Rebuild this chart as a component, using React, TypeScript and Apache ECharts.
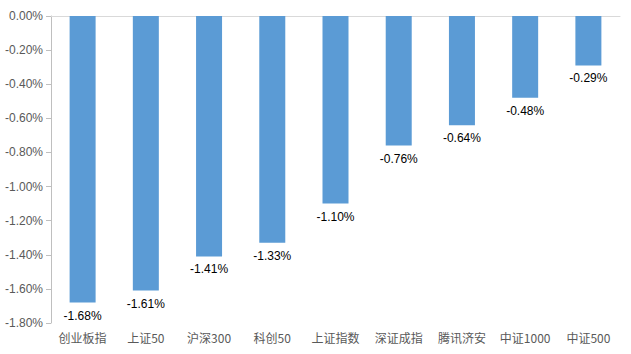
import React, { useEffect, useRef } from "react";
import * as echarts from "echarts";

const categories = ["创业板指", "上证50", "沪深300", "科创50", "上证指数", "深证成指", "腾讯济安", "中证1000", "中证500"];
const values = [-1.68, -1.61, -1.41, -1.33, -1.10, -0.76, -0.64, -0.48, -0.29];

export default function App() {
  const ref = useRef<HTMLDivElement>(null);
  useEffect(() => {
    if (!ref.current) return;
    const chart = echarts.init(ref.current, undefined, { renderer: "svg" });
    const font = "'Liberation Sans', 'Noto Sans CJK SC', sans-serif";
    chart.setOption({
      animation: false,
      grid: { left: 51, top: 16, right: 11, bottom: 31 },
      xAxis: [
        {
          type: "category",
          position: "top",
          data: categories,
          axisLine: { show: true, lineStyle: { color: "#d9d9d9", width: 1 } },
          axisTick: { show: false },
          axisLabel: { show: false },
        },
        {
          type: "category",
          position: "bottom",
          data: categories,
          axisLine: { show: false },
          axisTick: { show: false },
          axisLabel: { interval: 0, color: "#595959", fontSize: 12, margin: 8, fontFamily: "'Noto Sans CJK SC', 'Liberation Sans', sans-serif" },
        },
      ],
      yAxis: {
        type: "value",
        min: -1.8,
        max: 0,
        interval: 0.2,
        axisLine: { show: true, lineStyle: { color: "#bfbfbf" } },
        axisTick: { show: true, length: 5, lineStyle: { color: "#bfbfbf" } },
        splitLine: { show: false },
        axisLabel: {
          color: "#595959",
          fontSize: 12,
          margin: 8,
          fontFamily: font,
          formatter: (v: number) => (Math.abs(v) < 1e-9 ? "0.00%" : v.toFixed(2) + "%"),
        },
      },
      series: [
        {
          type: "bar",
          xAxisIndex: 0,
          data: values,
          barWidth: 26,
          itemStyle: { color: "#5b9bd5" },
          label: {
            show: true,
            position: "bottom",
            distance: 7,
            color: "#000000",
            fontSize: 12,
            fontFamily: font,
            formatter: (p: any) => p.value.toFixed(2) + "%",
          },
        },
      ],
    });
    return () => chart.dispose();
  }, []);
  return <div ref={ref} style={{ width: 631, height: 354, position: "absolute", left: 0, top: 0, background: "#fff" }} />;
}
